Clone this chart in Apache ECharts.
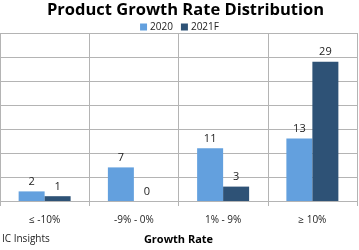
<!DOCTYPE html>
<html>
<head>
<meta charset="utf-8">
<script src="https://cdn.jsdelivr.net/npm/echarts@6/dist/echarts.min.js"></script>
<style>
  html, body { margin: 0; padding: 0; background: #fff; }
  #chart { width: 359px; height: 250px; }
</style>
</head>
<body>
<div id="chart"></div>
<script>
// categories and values
var categories = ['≤ -10%', '-9% - 0%', '1% - 9%', '≥ 10%'];
var values2020 = [2, 7, 11, 13];
var values2021F = [1, 0, 3, 29];

var myChart = echarts.init(document.getElementById('chart'));
var font = 'Open Sans';

var labelStyle = {
  show: true,
  position: 'top',
  distance: 4,
  color: '#222',
  fontSize: 11,
  fontFamily: font
};

var option = {
  animation: false,
  title: {
    text: 'Product Growth Rate Distribution',
    left: 42,
    top: -3,
    textStyle: { fontSize: 16.5, fontWeight: 'bold', color: '#000', fontFamily: font }
  },
  legend: {
    top: 17,
    left: 'center',
    itemWidth: 7,
    itemHeight: 7,
    itemGap: 8,
    icon: 'rect',
    textStyle: { fontSize: 10, color: '#222', fontFamily: font, padding: [0, 0, 0, -2] }
  },
  graphic: [
    {
      type: 'text',
      left: 2,
      top: 234,
      style: { text: 'IC Insights', fontSize: 10, fill: '#222', fontFamily: font }
    }
  ],
  grid: { left: -2, right: 2, top: 33, bottom: 48 },
  xAxis: {
    type: 'category',
    data: categories,
    name: 'Growth Rate',
    nameLocation: 'middle',
    nameGap: 33,
    nameTextStyle: { fontSize: 11, fontWeight: 'bold', color: '#000', fontFamily: font },
    axisLine: { lineStyle: { color: '#b4b4b4' } },
    axisTick: { show: true, length: 5, lineStyle: { color: '#b4b4b4' } },
    axisLabel: { margin: 14, fontSize: 10, color: '#222', fontFamily: font },
    splitLine: { show: true, lineStyle: { color: '#b4b4b4' } }
  },
  yAxis: {
    type: 'value',
    min: 0,
    max: 35,
    interval: 5,
    axisLabel: { show: false },
    axisLine: { show: false },
    axisTick: { show: false },
    splitLine: { lineStyle: { color: '#b4b4b4' } }
  },
  series: [
    {
      name: '2020',
      type: 'bar',
      data: values2020,
      barWidth: 26,
      barGap: '0%',
      itemStyle: { color: '#63a0de' },
      label: labelStyle
    },
    {
      name: '2021F',
      type: 'bar',
      data: values2021F,
      barWidth: 26,
      barGap: '0%',
      itemStyle: { color: '#2e5276' },
      label: labelStyle
    }
  ]
};

myChart.setOption(option);
</script>
</body>
</html>
